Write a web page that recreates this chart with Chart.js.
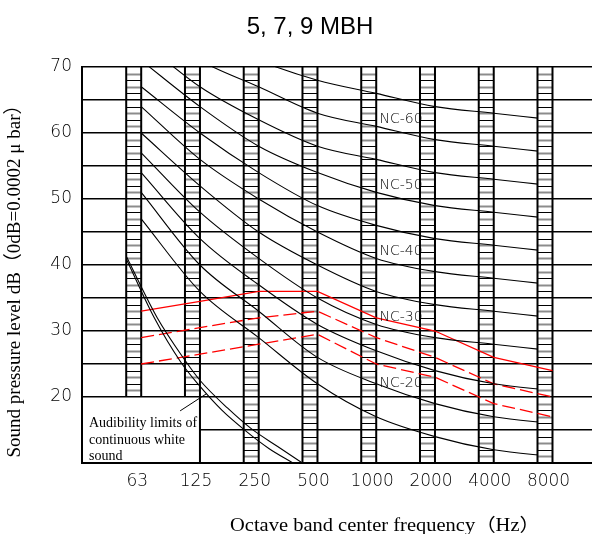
<!DOCTYPE html>
<html><head><meta charset="utf-8">
<script src="https://cdn.jsdelivr.net/npm/chart.js@4"></script>
<style>html,body{margin:0;padding:0;background:#fff}#wrap{width:592px;height:534px;position:relative}</style>
</head><body><div id="wrap"><canvas id="c" width="592" height="534"></canvas></div>
<script>
// ---- data ----
const bands = ['63','125','250','500','1000','2000','4000','8000'];
const yTickLabels = [20,30,40,50,60,70];
const nc15 = [47,36,29,22,17,14,12,11];
const nc20 = [51,40,33,26,22,19,17,16];
const nc25 = [54,44,37,31,27,24,22,21];
const nc30 = [57,48,41,35,31,29,28,27];
const nc35 = [60,52,45,40,36,34,33,32];
const nc40 = [64,56,50,45,41,39,38,37];
const nc45 = [67,60,54,49,46,44,43,42];
const nc50 = [71,64,58,54,51,49,48,47];
const nc55 = [74,67,62,58,56,54,53,52];
const nc60 = [77,71,67,63,61,59,58,57];
const nc65 = [80,75,71,68,66,64,63,62];
const labelledNC = ['NC-60','NC-50','NC-40','NC-30','NC-20'];
const labelledLevels = [60,50,40,30,20];
const redSolid = [33,34.5,36,36,32,30,26,24];
const redDash1 = [29,30.5,32,33,29,26,22,20];
const redDash2 = [25,26.5,28,29.5,25,23,19,17];
// audibility limit curves (x in octave steps from 63 Hz band)
const audUpperX = [-0.12,0.4,0.87,1.13,1.6,2.0,2.45,2.87];
const audUpperY = [41.2,32.0,25.6,22.5,18.3,15.2,12.5,10.0];
const audLowerX = [-0.12,0.35,0.8,1.1,1.5,1.9,2.3,2.71];
const audLowerY = [40.8,32.0,25.3,21.9,18.0,14.9,12.2,10.0];
const titleText = '5, 7, 9 MBH';
const yTitle = 'Sound pressure level dB（0dB=0.0002 μ bar）';
const xTitle = 'Octave band center frequency（Hz）';
const noteLines = ['Audibility limits of','continuous white','sound'];

// ---- layout constants ----
const EDGE = 0.1276;       // half width of a band column, in octave units
const LABEL_SHIFT = 0.06;
const ncAll = [nc15,nc20,nc25,nc30,nc35,nc40,nc45,nc50,nc55,nc60,nc65];

const atRight = arr => arr.map((v,i)=>({x:i+EDGE,y:v}));
const pairs = (xs,ys) => xs.map((x,i)=>({x,y:ys[i]}));

const datasets = [];
ncAll.forEach(a=>datasets.push({data:atRight(a),borderColor:'#000',borderWidth:1.1,pointRadius:0,cubicInterpolationMode:'monotone',isNC:true}));
datasets.push({data:pairs(audUpperX,audUpperY),borderColor:'#000',borderWidth:1.1,pointRadius:0,cubicInterpolationMode:'monotone'});
datasets.push({data:pairs(audLowerX,audLowerY),borderColor:'#000',borderWidth:1.1,pointRadius:0,cubicInterpolationMode:'monotone'});
datasets.push({data:atRight(redSolid),borderColor:'#ff0000',borderWidth:1.3,pointRadius:0,tension:0});
datasets.push({data:atRight(redDash1),borderColor:'#ff0000',borderWidth:1.3,pointRadius:0,tension:0,borderDash:[13,5]});
datasets.push({data:atRight(redDash2),borderColor:'#ff0000',borderWidth:1.3,pointRadius:0,tension:0,borderDash:[13,5]});

function fitText(ctx, text, cx, cy, targetW){
  const w = ctx.measureText(text).width;
  const s = targetW / w;
  ctx.save();
  ctx.translate(cx, cy);
  ctx.scale(s, 1);
  ctx.fillText(text, 0, 0);
  ctx.restore();
}

const deco = {
  id:'deco',
  beforeDatasetsDraw(chart){
    const {ctx, chartArea:a, scales:{x,y}} = chart;
    ctx.save();
    const y20 = y.getPixelForValue(20);
    const boxR = x.getPixelForValue(1+EDGE);
    ctx.fillStyle='#fff';
    ctx.fillRect(a.left+1, y20+1.5, boxR-a.left-1, a.bottom-y20-3);
    ctx.strokeStyle='#000'; ctx.lineWidth=2;
    ctx.beginPath(); ctx.moveTo(a.left, y20); ctx.lineTo(a.left, a.bottom); ctx.stroke();
    bands.forEach((b,i)=>{
      const l = x.getPixelForValue(i-EDGE), r = x.getPixelForValue(i+EDGE);
      const lowV = i<2 ? 20 : 10;
      for(let v=69; v>lowV; v--){
        if(v%5===0) continue;
        const py = Math.round(y.getPixelForValue(v))+0.5;
        ctx.strokeStyle = (v%2) ? '#8c8c8c' : '#000';
        ctx.lineWidth = (v%2) ? 2 : 1;
        ctx.beginPath(); ctx.moveTo(l,py); ctx.lineTo(r,py); ctx.stroke();
      }
      ctx.strokeStyle='#000'; ctx.lineWidth=2;
      ctx.beginPath();
      ctx.moveTo(l,a.top); ctx.lineTo(l,y.getPixelForValue(lowV));
      ctx.moveTo(r,a.top); ctx.lineTo(r, i===1 ? a.bottom : y.getPixelForValue(lowV));
      ctx.stroke();
    });
    // pointer of the note
    ctx.strokeStyle='#000'; ctx.lineWidth=1;
    ctx.beginPath();
    ctx.moveTo(x.getPixelForValue(0.79), y.getPixelForValue(17.9));
    ctx.lineTo(x.getPixelForValue(1.24), y.getPixelForValue(20.5));
    ctx.stroke();
    ctx.restore();
  },
  beforeDatasetDraw(chart, args){
    if(!chart.data.datasets[args.index].isNC) return;
    const {ctx, chartArea:a, scales:{x}} = chart;
    ctx.save();
    ctx.beginPath();
    ctx.rect(a.left, a.top-5, x.getPixelForValue(bands.length-1-EDGE)-a.left, a.bottom-a.top+10);
    ctx.clip();
  },
  afterDatasetDraw(chart, args){
    if(!chart.data.datasets[args.index].isNC) return;
    chart.ctx.restore();
  },
  afterDraw(chart){
    const {ctx, chartArea:a, scales:{x,y}} = chart;
    ctx.save();
    ctx.fillStyle='#000';
    // title
    ctx.font='24px "Liberation Sans", Arial, sans-serif';
    ctx.textAlign='center'; ctx.textBaseline='alphabetic';
    ctx.fillText(titleText, 310, 34);
    // NC labels
    ctx.font='200 14px "DejaVu Sans", sans-serif';
    ctx.textBaseline='middle';
    labelledNC.forEach((t,i)=>{
      ctx.fillText(t, x.getPixelForValue(4.55), y.getPixelForValue(labelledLevels[i]+2.1));
    });
    // note text
    ctx.font='14px "Liberation Serif", "Times New Roman", serif';
    ctx.textAlign='left'; ctx.textBaseline='alphabetic';
    const y20 = y.getPixelForValue(20);
    noteLines.forEach((t,i)=>ctx.fillText(t, a.left+7, y20+30+i*16.6));
    // x title
    ctx.font='18px "Liberation Serif", "Noto Sans CJK JP", serif';
    ctx.textAlign='center';
    fitText(ctx, xTitle, 385, 531, 310);
    // y title
    ctx.translate(19.5, 276.5);
    ctx.rotate(-Math.PI/2);
    ctx.font='19px "Liberation Serif", "Noto Sans CJK JP", serif';
    ctx.textAlign='center'; ctx.textBaseline='alphabetic';
    fitText(ctx, yTitle, 0, 0, 362);
    ctx.restore();
  }
};

const tickFont = {family:'"DejaVu Sans", sans-serif', size:17, weight:200};

new Chart(document.getElementById('c'), {
  type:'line',
  data:{datasets},
  options:{
    responsive:false, animation:false, devicePixelRatio:1,
    layout:{padding:{top:67,left:0,right:0,bottom:0}},
    plugins:{legend:{display:false},tooltip:{enabled:false},title:{display:false}},
    scales:{
      x:{type:'linear', min:-0.88, max:7.80,
        grid:{display:false},
        border:{display:true,color:'#000',width:2},
        afterBuildTicks(s){ s.ticks = bands.map((b,i)=>({value:i+LABEL_SHIFT})); },
        afterFit(s){ s.height = 71; },
        ticks:{autoSkip:false,maxRotation:0,padding:0,color:'#000',font:tickFont,
          callback:(v,i)=>bands[i]}
      },
      y:{type:'linear', min:10, max:70,
        grid:{color:'#000',lineWidth:1.5,drawTicks:false},
        border:{display:true,color:'#000',width:2},
        afterFit(s){ s.width = 82; },
        ticks:{stepSize:5,padding:10,color:'#000',font:tickFont,
          callback:v=>yTickLabels.includes(v)?String(v):''}
      }
    }
  },
  plugins:[deco]
});
</script></body></html>
